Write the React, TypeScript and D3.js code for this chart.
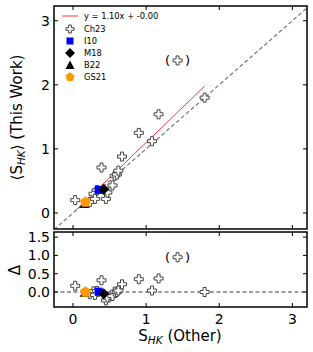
import * as d3 from "d3";

// Ch23 comparison stars: [S_HK other, <S_HK> this work]
const ch23X = [0.03, 0.23, 0.28, 0.30, 0.33, 0.39, 0.45, 0.47, 0.54, 0.57, 0.60, 0.62, 0.67, 0.90, 1.08, 1.17, 1.80];
const ch23Y = [0.20, 0.17, 0.30, 0.22, 0.36, 0.71, 0.22, 0.32, 0.43, 0.58, 0.60, 0.66, 0.88, 1.25, 1.12, 1.54, 1.80];
// bracketed outlier
const outlier = [1.43, 2.38];
const i10 = [0.35, 0.36];
const m18 = [0.42, 0.37];
const b22 = [0.16, 0.14];
const gs21 = [0.17, 0.17];
const fitSlope = 1.1;
const fitRange = [0.03, 1.8];
const xTicks = [0, 1, 2, 3];
const yTicksTop = [0, 1, 2, 3];
const yTicksBot = [0, 0.5, 1.0, 1.5];

const W = 313;
const H = 352;
const left = 54;
const right = 307;
const top1 = 6;
const bot1 = 229;
const top2 = 232;
const bot2 = 307;
const font = "DejaVu Sans, sans-serif";

const x = d3.scaleLinear().domain([-0.26, 3.2]).range([left, right]);
const y1 = d3.scaleLinear().domain([-0.25, 3.23]).range([bot1, top1]);
const y2 = d3.scaleLinear().domain([-0.41, 1.64]).range([bot2, top2]);

const plusPath = (s: number) => {
  const a = s / 3;
  return `M${-a},${-s}H${a}V${-a}H${s}V${a}H${a}V${s}H${-a}V${a}H${-s}V${-a}H${-a}Z`;
};
const pentagon = (r: number) =>
  d3.range(5).map((i) => {
    const t = -Math.PI / 2 + (i * 2 * Math.PI) / 5;
    return [r * Math.cos(t), r * Math.sin(t)];
  });

function Cross({ cx, cy }: { cx: number; cy: number }) {
  return (
    <path d={plusPath(4.5)} transform={`translate(${cx},${cy})`} fill="white" stroke="#444" strokeWidth={1} />
  );
}

function Markers({ ys, delta }: { ys: d3.ScaleLinear<number, number>; delta: boolean }) {
  const v = (px: number, py: number) => (delta ? py - px : py);
  const pent = pentagon(5.5).map((p) => p.join(",")).join(" ");
  const ox = x(outlier[0]);
  const oy = ys(v(outlier[0], outlier[1]));
  return (
    <g>
      {ch23X.map((xv, i) => (
        <Cross key={i} cx={x(xv)} cy={ys(v(xv, ch23Y[i]))} />
      ))}
      <Cross cx={ox} cy={oy} />
      <text x={ox - 10} y={oy + 4.5} fontSize={13} fontFamily={font} textAnchor="middle">(</text>
      <text x={ox + 10} y={oy + 4.5} fontSize={13} fontFamily={font} textAnchor="middle">)</text>
      <rect x={x(i10[0]) - 4} y={ys(v(i10[0], i10[1])) - 4} width={8} height={8} fill="#0000ff" />
      <path d="M0,-5.5L5.5,0L0,5.5L-5.5,0Z" transform={`translate(${x(m18[0])},${ys(v(m18[0], m18[1]))})`} fill="black" />
      <path d="M0,-5L5,4L-5,4Z" transform={`translate(${x(b22[0])},${ys(v(b22[0], b22[1]))})`} fill="black" />
      <polygon points={pent} transform={`translate(${x(gs21[0])},${ys(v(gs21[0], gs21[1]))})`} fill="#ff9900" stroke="#ff9900" strokeWidth={0.5} />
    </g>
  );
}

function Frame({ ys, t, b, ticks, fmt, showX }: { ys: d3.ScaleLinear<number, number>; t: number; b: number; ticks: number[]; fmt: (d: number) => string; showX: boolean }) {
  return (
    <g>
      {xTicks.map((d) => (
        <g key={"x" + d}>
          <line x1={x(d)} x2={x(d)} y1={b} y2={b - 4} stroke="black" strokeWidth={1} />
          <line x1={x(d)} x2={x(d)} y1={t} y2={t + 4} stroke="black" strokeWidth={1} />
          {showX && (
            <text x={x(d)} y={b + 17} fontSize={14} fontFamily={font} textAnchor="middle">
              {d}
            </text>
          )}
        </g>
      ))}
      {ticks.map((d) => (
        <g key={"y" + d}>
          <line x1={left} x2={left + 4} y1={ys(d)} y2={ys(d)} stroke="black" strokeWidth={1} />
          <line x1={right} x2={right - 4} y1={ys(d)} y2={ys(d)} stroke="black" strokeWidth={1} />
          <text x={left - 4} y={ys(d) + 5} fontSize={14} fontFamily={font} textAnchor="end">
            {fmt(d)}
          </text>
        </g>
      ))}
      <rect x={left} y={t} width={right - left} height={b - t} fill="none" stroke="black" strokeWidth={1.5} />
    </g>
  );
}

export default function App() {
  const legend = [
    { label: "Ch23", kind: "cross" },
    { label: "I10", kind: "square" },
    { label: "M18", kind: "diamond" },
    { label: "B22", kind: "tri" },
    { label: "GS21", kind: "pent" },
  ];
  const lx = 70;
  return (
    <svg width={W} height={H} style={{ position: "absolute", left: 0, top: 0 }}>
      <rect width={W} height={H} fill="white" />
      <defs>
        <clipPath id="c1">
          <rect x={left} y={top1} width={right - left} height={bot1 - top1} />
        </clipPath>
        <clipPath id="c2">
          <rect x={left} y={top2} width={right - left} height={bot2 - top2} />
        </clipPath>
      </defs>
      {/* top panel */}
      <g clipPath="url(#c1)">
        <line x1={x(-0.26)} y1={y1(-0.26)} x2={x(3.3)} y2={y1(3.3)} stroke="gray" strokeWidth={1.3} strokeDasharray="4,2.5" />
        <line x1={x(fitRange[0])} y1={y1(fitSlope * fitRange[0])} x2={x(fitRange[1])} y2={y1(fitSlope * fitRange[1])} stroke="red" strokeWidth={0.8} />
        <Markers ys={y1} delta={false} />
      </g>
      <Frame ys={y1} t={top1} b={bot1} ticks={yTicksTop} fmt={(d) => String(d)} showX={false} />
      {/* legend */}
      <line x1={62} x2={78} y1={16} y2={16} stroke="red" strokeWidth={0.8} />
      <text x={84} y={19} fontSize={8.3} fontFamily={font}>
        y = 1.10x + -0.00
      </text>
      {legend.map((e, i) => {
        const cy = 29 + i * 12;
        return (
          <g key={e.label}>
            {e.kind === "cross" && <path d={plusPath(4)} transform={`translate(${lx},${cy})`} fill="white" stroke="#444" strokeWidth={1} />}
            {e.kind === "square" && <rect x={lx - 3.5} y={cy - 3.5} width={7} height={7} fill="#0000ff" />}
            {e.kind === "diamond" && <path d="M0,-5L5,0L0,5L-5,0Z" transform={`translate(${lx},${cy})`} fill="black" />}
            {e.kind === "tri" && <path d="M0,-4.5L4.5,4L-4.5,4Z" transform={`translate(${lx},${cy})`} fill="black" />}
            {e.kind === "pent" && (
              <polygon points={pentagon(4.8).map((p) => p.join(",")).join(" ")} transform={`translate(${lx},${cy})`} fill="#ff9900" />
            )}
            <text x={84} y={cy + 3} fontSize={8.3} fontFamily={font}>
              {e.label}
            </text>
          </g>
        );
      })}
      {/* bottom panel */}
      <g clipPath="url(#c2)">
        <line x1={left} x2={right} y1={y2(0)} y2={y2(0)} stroke="gray" strokeWidth={1.3} strokeDasharray="4,2.5" />
        <Markers ys={y2} delta={true} />
      </g>
      <Frame ys={y2} t={top2} b={bot2} ticks={yTicksBot} fmt={d3.format(".1f")} showX={true} />
      {/* axis labels */}
      <text x={180} y={341} fontSize={15} fontFamily={font} textAnchor="middle">
        S<tspan fontStyle="italic" fontSize={10.5} dy={3}>HK</tspan>
        <tspan dy={-3}> (Other)</tspan>
      </text>
      <text transform={`translate(22,${(top1 + bot1) / 2}) rotate(-90)`} fontSize={15} fontFamily={font} textAnchor="middle">
        ⟨S<tspan fontStyle="italic" fontSize={10.5} dy={3}>HK</tspan>
        <tspan dy={-3}>⟩ (This Work)</tspan>
      </text>
      <text transform={`translate(20,${y2(0.6)}) rotate(-90)`} fontSize={15} fontFamily={font} textAnchor="middle">
        Δ
      </text>
    </svg>
  );
}
